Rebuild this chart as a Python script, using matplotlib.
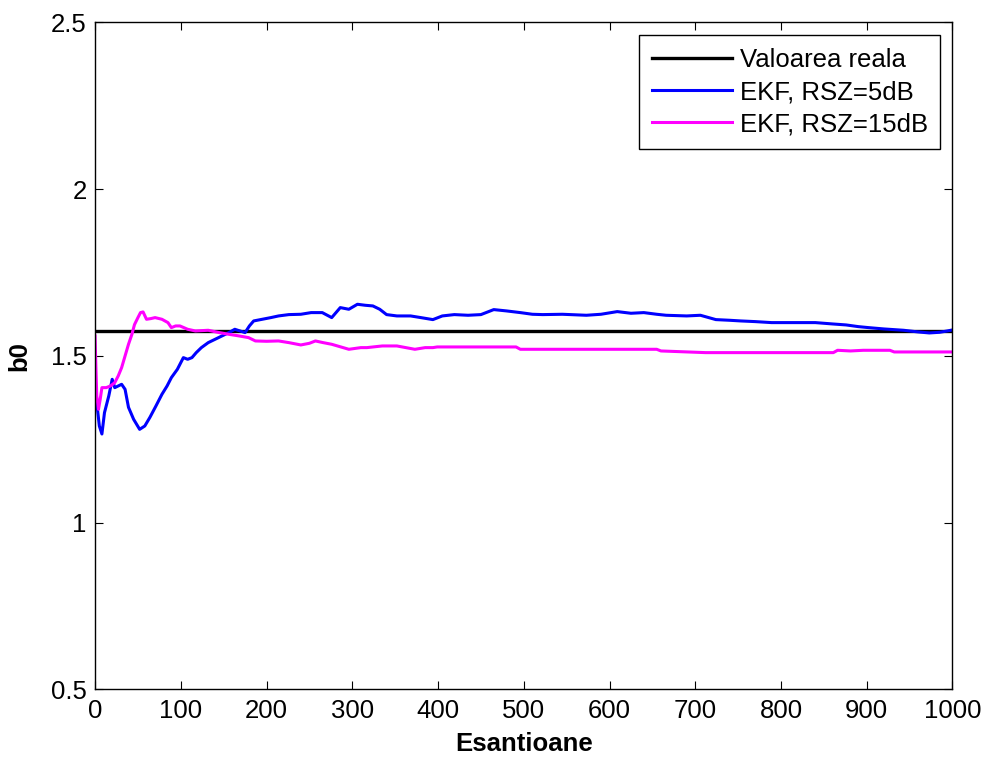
import matplotlib.pyplot as plt
import numpy as np

plt.rcParams['font.family'] = ['Liberation Sans', 'DejaVu Sans']

# valoarea reala a parametrului b0
b0_real = 1.575

# EKF, RSZ=5dB
n_5db = [0, 2, 5, 8, 11, 16, 20, 23, 27, 31, 35, 39, 45, 52, 58, 64, 71, 78,
         84, 89, 96, 103, 108, 113, 118, 124, 132, 140, 148, 156, 163, 169,
         175, 180, 185, 195, 205, 214, 226, 240, 252, 265, 276, 286, 296, 306,
         315, 324, 332, 340, 352, 368, 380, 394, 405, 419, 435, 450, 465, 480,
         496, 510, 522, 545, 573, 590, 609, 625, 640, 655, 666, 690, 706, 724,
         740, 753, 770, 789, 810, 840, 860, 876, 890, 902, 920, 943, 960, 973,
         985, 994, 1000]
b0_5db = [1.42, 1.36, 1.29, 1.266, 1.33, 1.38, 1.43, 1.405, 1.41, 1.415, 1.40,
          1.346, 1.31, 1.28, 1.29, 1.316, 1.35, 1.385, 1.41, 1.435, 1.46, 1.495,
          1.49, 1.495, 1.51, 1.525, 1.54, 1.55, 1.56, 1.57, 1.58, 1.575, 1.57,
          1.59, 1.605, 1.61, 1.615, 1.62, 1.624, 1.625, 1.63, 1.63, 1.615,
          1.645, 1.64, 1.655, 1.652, 1.65, 1.64, 1.624, 1.62, 1.62, 1.615, 1.609,
          1.62, 1.624, 1.622, 1.624, 1.639, 1.635, 1.63, 1.625, 1.624, 1.625,
          1.622, 1.625, 1.633, 1.628, 1.63, 1.625, 1.622, 1.62, 1.622, 1.609,
          1.607, 1.605, 1.603, 1.6, 1.6, 1.6, 1.596, 1.593, 1.588, 1.585, 1.581,
          1.577, 1.572, 1.569, 1.571, 1.575, 1.578]

# EKF, RSZ=15dB
n_15db = [0, 1, 2, 4, 6, 8, 13, 18, 23, 27, 31, 35, 39, 43, 46, 50, 53, 56, 60,
          65, 70, 78, 85, 89, 94, 99, 108, 117, 132, 145, 156, 168, 179, 187,
          200, 214, 226, 240, 250, 257, 266, 276, 296, 310, 317, 335, 352, 373,
          385, 394, 399, 491, 496, 655, 660, 712, 861, 866, 881, 896, 927, 932,
          1000]
b0_15db = [1.56, 1.465, 1.38, 1.34, 1.37, 1.405, 1.405, 1.41, 1.42, 1.44,
           1.465, 1.50, 1.535, 1.565, 1.594, 1.615, 1.63, 1.632, 1.61, 1.612,
           1.615, 1.61, 1.6, 1.585, 1.59, 1.59, 1.58, 1.575, 1.577, 1.57, 1.565,
           1.56, 1.555, 1.545, 1.544, 1.545, 1.54, 1.533, 1.538, 1.545, 1.54,
           1.535, 1.52, 1.525, 1.525, 1.53, 1.53, 1.52, 1.525, 1.525, 1.527,
           1.527, 1.52, 1.52, 1.515, 1.51, 1.51, 1.517, 1.515, 1.517, 1.517,
           1.512, 1.512]

fs = 18.5

fig = plt.figure(figsize=(9.85, 7.61), dpi=100)
ax = fig.add_axes([0.0965, 0.094, 0.8705, 0.8765])

ax.plot([0, 1000], [b0_real, b0_real], color='k', linewidth=2.4,
        label='Valoarea reala')
ax.plot(n_5db, b0_5db, color='#0000ff', linewidth=2.2,
        label='EKF, RSZ=5dB')
ax.plot(n_15db, b0_15db, color='#ff00ff', linewidth=2.2,
        label='EKF, RSZ=15dB')

ax.set_xlim(0, 1000)
ax.set_ylim(0.5, 2.5)
ax.set_xticks(np.arange(0, 1001, 100))
ax.set_yticks([0.5, 1, 1.5, 2, 2.5])
ax.set_yticklabels(['0.5', '1', '1.5', '2', '2.5'])
ax.tick_params(direction='in', length=6, width=0.8, top=True, right=True,
               labelsize=fs)
ax.tick_params(axis='x', pad=7)
ax.tick_params(axis='y', pad=6)
for s in ax.spines.values():
    s.set_linewidth(1.0)

ax.set_xlabel('Esantioane', fontsize=fs, fontweight='bold', labelpad=6)
ax.set_ylabel('b0', fontsize=fs, fontweight='bold', labelpad=14)

leg = ax.legend(loc='upper right', bbox_to_anchor=(0.986, 0.981),
                fontsize=fs, fancybox=False, framealpha=1,
                edgecolor='k', handlelength=3.1, handletextpad=0.3,
                borderpad=0.5, labelspacing=0.32, borderaxespad=0)
leg.get_frame().set_linewidth(1.0)

fig.savefig('out.png', dpi=100)
